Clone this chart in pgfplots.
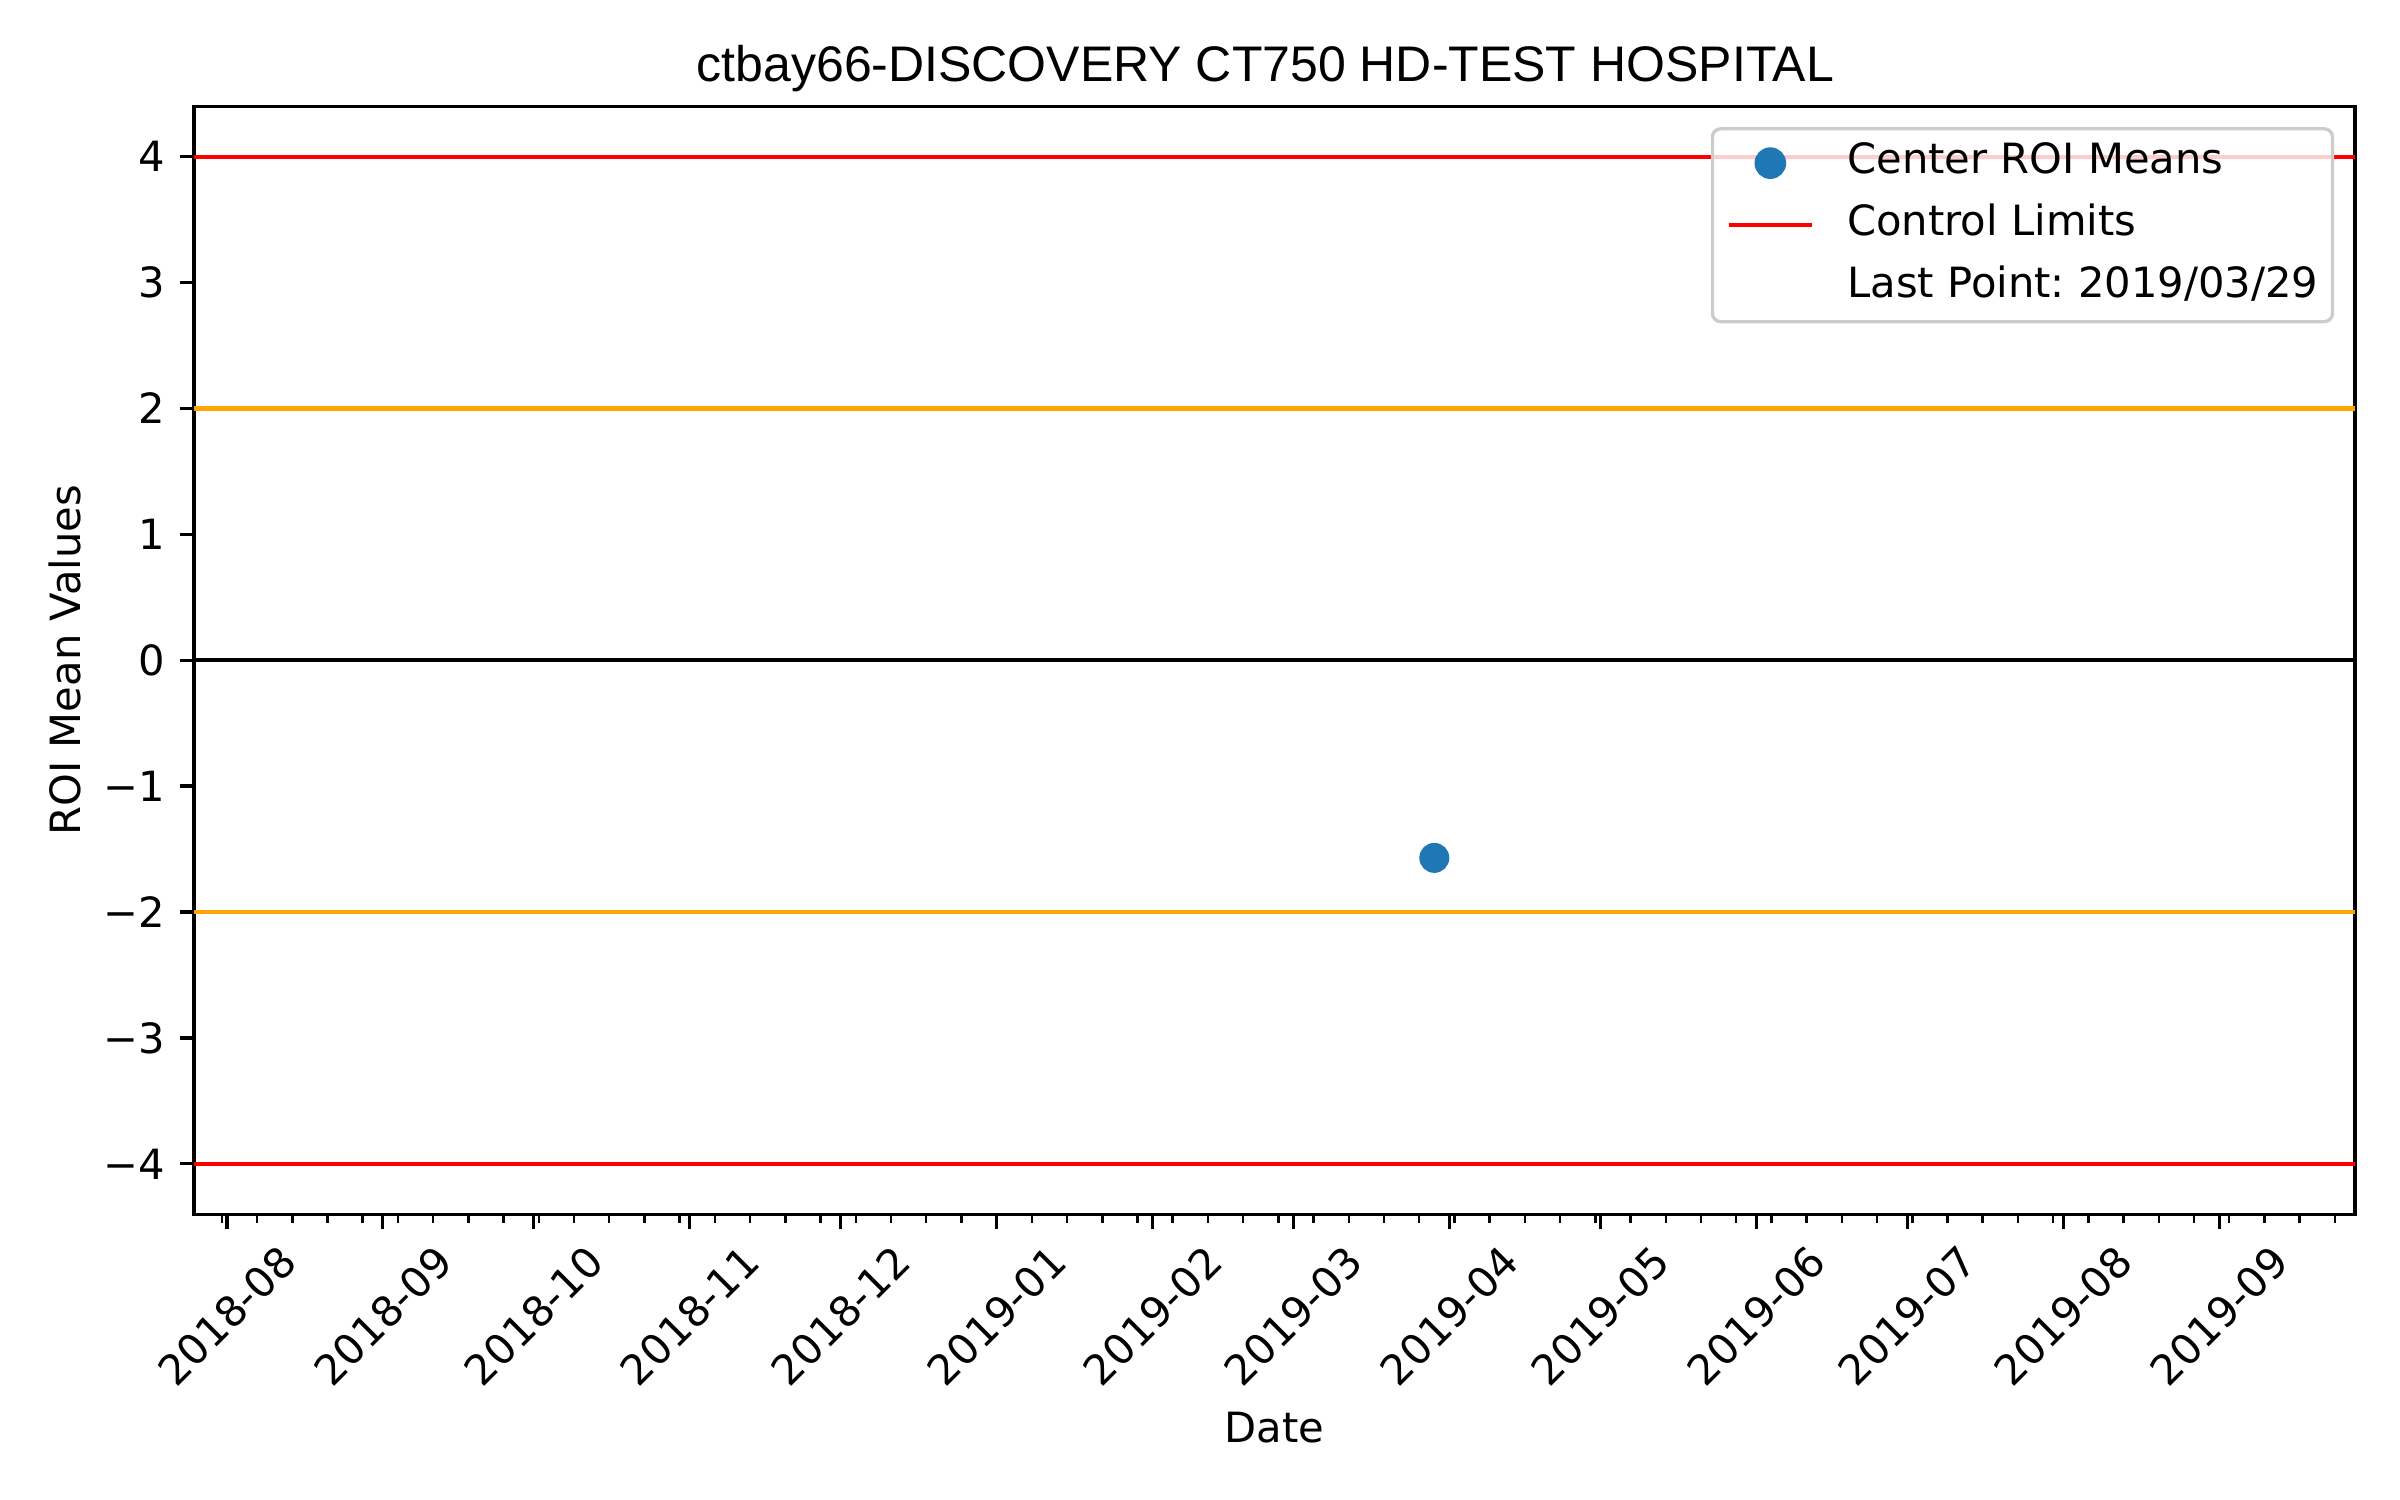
\documentclass[border=0pt]{standalone}
\usepackage{fontspec}
\setmainfont{DejaVu Sans}
\newfontfamily\titlefont{Liberation Sans}
\usepackage{pgfplots}
\pgfplotsset{compat=1.18}
\frenchspacing

\definecolor{mplblue}{HTML}{1F77B4}
\definecolor{mplorange}{HTML}{FFA500}
\definecolor{legendgray}{gray}{0.8}

\pgfplotsset{
  markhandle/.style={legend image code/.code={\path (0bp,0bp) (20bp,0bp);
    \draw[##1, opacity=1, fill opacity=1, draw opacity=1] plot coordinates {(10bp,0bp)};}},
  linehandle/.style={legend image code/.code={\draw[##1, opacity=1, draw opacity=1] (0bp,0bp) -- (20bp,0bp);}},
  nohandle/.style={legend image code/.code={\path (0bp,0bp) (20bp,0bp);}},
}

% days counted from 2018-08-01
\begin{document}
\begin{tikzpicture}
\begin{axis}[
  at={(0,0)}, anchor=south west,
  scale only axis, width=518.6bp, height=265.9bp,
  xmin=-6.5, xmax=423, ymin=-4.4, ymax=4.4,
  xtick={0,31,61,92,122,153,184,212,243,273,304,334,365,396},
  xticklabels={2018-08,2018-09,2018-10,2018-11,2018-12,2019-01,2019-02,2019-03,2019-04,2019-05,2019-06,2019-07,2019-08,2019-09},
  minor xtick={-1,6,...,419},
  ytick={-4,-3,-2,-1,0,1,2,3,4},
  yticklabels={−4,−3,−2,−1,0,1,2,3,4},
  tick align=outside, tick pos=left,
  major tick length=3.5bp, minor tick length=2bp,
  major tick style={black, line width=0.8bp},
  minor tick style={black, line width=0.6bp},
  axis line style={black, line width=0.8bp},
  tick label style={font=\fontsize{10bp}{12bp}\selectfont},
  xticklabel style={yshift=-20.9bp, anchor=center, rotate=45},
  title={ctbay66-DISCOVERY CT750 HD-TEST HOSPITAL},
  title style={at={(axis description cs:0.5,1.0226)}, anchor=base,
    yshift=-6pt, xshift=-2.2bp,
    font=\titlefont\fontsize{12bp}{14bp}\selectfont},
  xlabel={Date},
  xlabel style={at={(axis description cs:0.5,-0.206)}, anchor=base,
    font=\fontsize{10bp}{12bp}\selectfont},
  ylabel={ROI Mean Values},
  ylabel style={at={(axis description cs:-0.0525,0.5)}, anchor=base,
    font=\fontsize{10bp}{12bp}\selectfont},
  legend cell align=left,
  legend style={at={(1,1)}, anchor=north east, xshift=-5bp, yshift=-5bp,
    draw=legendgray, line width=0.8bp, fill=white, fill opacity=0.8, text opacity=1,
    rounded corners=2bp, inner xsep=3.4bp, inner ysep=3.4bp,
    row sep=5.2bp, column sep=8bp,
    nodes={inner sep=0pt, text height=7.3bp, text depth=2.4bp},
    font=\fontsize{10bp}{12bp}\selectfont},
]
\addplot[only marks, mark=*, mark size=3.4bp, color=mplblue, markhandle]
  coordinates {(240,-1.57)};
\addlegendentry{Center ROI Means}
\addplot[red, line width=1bp, linehandle]
  coordinates {(-6.5,4) (423,4)};
\addlegendentry{Control Limits}
\addplot[red, line width=1bp, forget plot] coordinates {(-6.5,-4) (423,-4)};
\addplot[mplorange, line width=1bp, forget plot] coordinates {(-6.5,2) (423,2)};
\addplot[mplorange, line width=1bp, forget plot] coordinates {(-6.5,-2) (423,-2)};
\addplot[black, line width=1bp, forget plot] coordinates {(-6.5,0) (423,0)};
\addlegendimage{nohandle}
\addlegendentry{Last Point: 2019/03/29}
\end{axis}
\pgfresetboundingbox
\path (-46.6bp,-68.6bp) rectangle (529.4bp,291.4bp);
\end{tikzpicture}
\end{document}
